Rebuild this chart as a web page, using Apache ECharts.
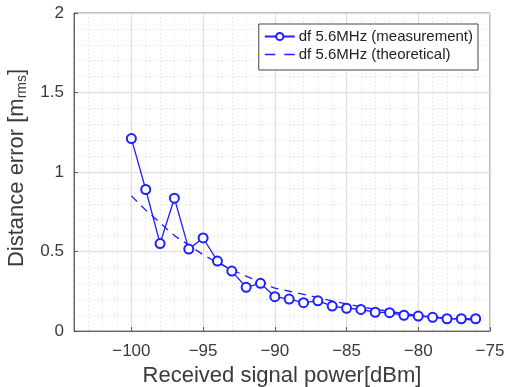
<!DOCTYPE html>
<html><head><meta charset="utf-8">
<script src="https://cdn.jsdelivr.net/npm/echarts@6/dist/echarts.min.js"></script>
<style>html,body{margin:0;padding:0;background:#fff}#c{width:505px;height:387px}</style>
</head><body><div id="c"></div>
<script>
const power = [-100,-99,-98,-97,-96,-95,-94,-93,-92,-91,-90,-89,-88,-87,-86,-85,-84,-83,-82,-81,-80,-79,-78,-77,-76];
const measured = [1.21,0.89,0.55,0.835,0.515,0.585,0.44,0.377,0.275,0.30,0.216,0.201,0.178,0.19,0.157,0.143,0.136,0.118,0.115,0.099,0.094,0.086,0.077,0.077,0.077];
const theoretical = [0.85,0.76,0.68,0.60,0.54,0.48,0.43,0.385,0.345,0.305,0.27,0.25,0.23,0.21,0.19,0.17,0.152,0.137,0.123,0.11,0.098,0.089,0.081,0.074,0.068];
const xTicks = [-100,-95,-90,-85,-80,-75];
const yTicks = [0,0.5,1,1.5,2];
const names = ['df 5.6MHz (measurement)','df 5.6MHz (theoretical)'];

const FONT = 'Liberation Sans';
const blue = '#1f1fff';
const TXT = '#3a3a3a';
const minus = v => String(v).replace('-', '\u2212');
const dashIcon = 'path://M0,0h0.01v0.01h-0.01z M29.99,8.99h0.01v0.01h-0.01z M0,3.85h10.5v1.3h-10.5z M19.5,3.85h10.5v1.3h-10.5z';

const chart = echarts.init(document.getElementById('c'), null, {renderer:'canvas'});
chart.setOption({
  animation:false,
  textStyle:{fontFamily:FONT},
  grid:{left:74,top:13,right:15,bottom:56,outerBoundsMode:'none',containLabel:false,show:true,borderColor:'#666',borderWidth:1,backgroundColor:'transparent'},
  legend:{
    data:[{name:names[0]},{name:names[1], icon:dashIcon}],
    orient:'vertical', right:27, top:24,
    itemWidth:30, itemHeight:9, itemGap:1,
    padding:[4,5,7,5],
    borderColor:'#444', borderWidth:1, backgroundColor:'#fff',
    textStyle:{fontFamily:FONT,fontSize:15,color:'#222',lineHeight:17,padding:[0,0,0,-1]}
  },
  xAxis:[{
    type:'value', min:-104, max:-75,
    axisLabel:{show:true, customValues:xTicks, formatter:minus, fontSize:17, color:TXT, margin:12},
    axisTick:{show:true, customValues:xTicks, inside:true, length:4, lineStyle:{color:'#555'}},
    axisLine:{show:true, lineStyle:{color:'#666'}},
    splitLine:{show:true, lineStyle:{color:'#e2e2e2', width:1.3}},
    name:'Received signal power[dBm]', nameLocation:'middle', nameGap:31,
    nameTextStyle:{fontSize:22,color:TXT,fontFamily:FONT}
  },{
    type:'value', min:-104, max:-75, interval:1, position:'bottom',
    axisLabel:{show:false}, axisTick:{show:false}, axisLine:{show:false},
    splitLine:{show:true, lineStyle:{color:'#d8d8d8', type:[1,3], width:1}}
  }],
  yAxis:{
    type:'value', min:0, max:2, interval:0.5,
    axisLabel:{fontSize:17, color:TXT, margin:10},
    axisTick:{show:true, inside:true, length:4, lineStyle:{color:'#555'}},
    axisLine:{show:true, lineStyle:{color:'#666'}},
    splitLine:{show:true, lineStyle:{color:'#e2e2e2', width:1.3}},
    minorTick:{show:false, splitNumber:5},
    minorSplitLine:{show:true, lineStyle:{color:'#d8d8d8', type:[1,3], width:1}},
    name:'{a|Distance error [m}{s|rms}{a|]}', nameLocation:'middle', nameGap:35, nameRotate:90,
    nameTextStyle:{padding:[0,0,0,8],rich:{a:{fontSize:22,color:TXT,fontFamily:FONT}, s:{fontSize:14,color:TXT,fontFamily:FONT,verticalAlign:'bottom',padding:[11,0,0,0]}}}
  },
  series:[{
    name:names[0], type:'line', xAxisIndex:0,
    data:power.map((p,i)=>[p,measured[i]]),
    symbol:'emptyCircle', symbolSize:9, showSymbol:true,
    lineStyle:{color:blue,width:1.3}, itemStyle:{color:blue, borderWidth:1.3},
    z:3
  },{
    name:names[1], type:'line', xAxisIndex:0,
    data:power.map((p,i)=>[p,theoretical[i]]),
    symbol:'none', smooth:false,
    lineStyle:{color:blue,width:1.3,type:[8,6]}, itemStyle:{color:blue},
    z:2
  }]
});
</script></body></html>
